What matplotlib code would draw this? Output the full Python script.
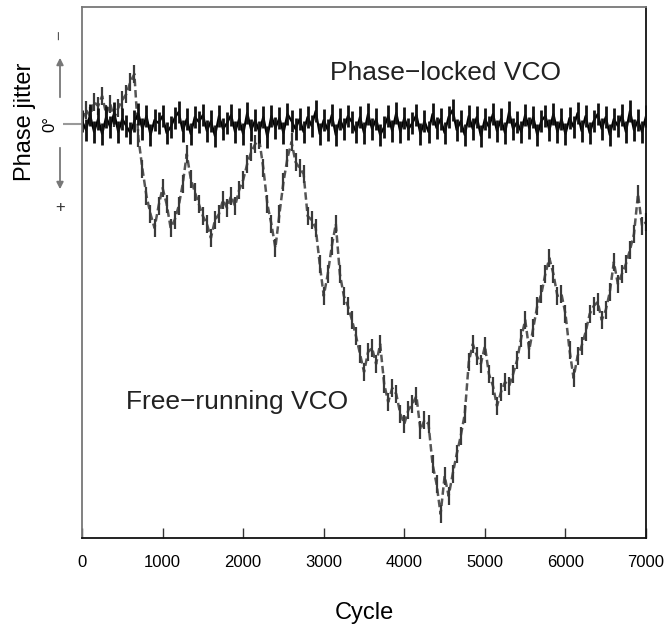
import matplotlib
matplotlib.use("Agg")
import matplotlib.pyplot as plt
import numpy as np

plt.rcParams['font.family'] = ['Liberation Sans', 'DejaVu Sans']

# cycle axis, one sample every 50 cycles
cycles = list(range(0, 7001, 50))

# free-running VCO phase jitter (arbitrary units)
free_running = [
    4, 14, 8, 22, 18, 28, 10, 20, 6, 16,
    24, 30, 42, 50, -14, -45, -72, -90, -104, -82,
    -64, -80, -104, -96, -82, -60, -30, -55, -68, -80,
    -92, -100, -114, -96, -90, -76, -84, -72, -82, -66,
    -56, -40, -28, -20, -16, -44, -80, -100, -124, -90,
    -58, -34, -18, -38, -44, -50, -92, -96, -104, -140,
    -172, -150, -122, -100, -150, -172, -182, -196, -212, -230,
    -248, -228, -224, -240, -220, -260, -278, -264, -270, -290,
    -300, -286, -280, -272, -306, -296, -300, -340, -360, -390,
    -352, -372, -350, -330, -312, -290, -238, -220, -232, -240,
    -222, -250, -262, -282, -268, -258, -262, -250, -236, -214,
    -196, -226, -204, -182, -170, -150, -134, -150, -172, -170,
    -190, -226, -254, -232, -222, -208, -190, -182, -178, -196,
    -186, -168, -138, -160, -150, -140, -126, -110, -70, -102,
    -98,
]

# phase-locked VCO phase jitter (same units)
phase_locked = [
    3, -6, 9, -8, 5, -10, 7, -3, 11, -8,
    5, -2, -9, 3, 10, -5, 8, -11, 4, 1,
    8, -9, -3, 6, 12, -7, 5, -10, 7, 2,
    9, -7, 3, -12, 8, -5, 1, 9, -8, 5,
    -10, 11, -6, 4, -8, 7, -13, 8, -4, 6,
    -9, 10, 3, -5, 5, -8, 7, -2, 13, -10,
    4, -6, 9, -11, 5, -5, 8, 2, -8, 7,
    -9, 10, -5, 5, -11, -3, 8, -7, 11, -8,
    6, -5, 1, 9, -10, 3, -8, 10, -4, 5,
    -9, 7, 14, -6, 3, -11, 8, -5, 7, -12,
    5, -3, 10, -7, 5, -9, 12, -5, 2, -8,
    9, -4, 7, -11, 3, 8, -6, 10, -8, 5,
    -10, 6, -3, 11, -7, 8, -9, 3, 10, -5,
    7, -11, 5, -2, 9, -8, 13, -6, 4, -8,
    8,
]

xticks = [0, 1000, 2000, 3000, 4000, 5000, 6000, 7000]

fig = plt.figure(figsize=(6.64, 6.24), dpi=100)
ax = fig.add_axes([0.1235, 0.1378, 0.8495, 0.851])

ax.plot(cycles, free_running, color="#555555", lw=1.8, ls=(0, (3, 1.5)),
        marker="|", ms=13, mew=1.6, mec="#3a3a3a")
ax.plot(cycles, phase_locked, color="black", lw=1.6,
        marker="|", ms=16, mew=2.0, mec="#111111")

ax.set_xlim(0, 7000)
ax.set_ylim(-414, 117)

ax.set_xticks(xticks)
ax.set_xticklabels([str(t) for t in xticks], fontsize=12)
ax.tick_params(axis="x", direction="in", length=7, width=1, pad=12, color="#333333")

ax.set_yticks([0])
ax.set_yticklabels(["0°"], rotation=90, va="center", fontsize=12)
ax.tick_params(axis="y", direction="out", length=14, width=1.5, pad=4, color="#999999")

ax.set_xlabel("Cycle", fontsize=17, labelpad=23)

for side in ["left", "top"]:
    ax.spines[side].set_color("#777777")
for side in ["right", "bottom"]:
    ax.spines[side].set_color("#111111")
for s in ax.spines.values():
    s.set_linewidth(1.3)

ax.text(4505, 51, "Phase\u2212locked VCO", fontsize=19, ha="center", va="center", color="#222222")
ax.text(1924, -278, "Free\u2212running VCO", fontsize=19, ha="center", va="center", color="#222222")

# y-axis legend: label, arrows and signs (figure pixel positions)
H = 624
fig.text(25 / 664, 1 - 122 / H, "Phase jitter", rotation=90, ha="center", va="center", fontsize=17)
arrow = dict(arrowstyle="-|>", color="#777777", lw=1.3, mutation_scale=10)
ax.annotate("", xy=(60, H - 55), xytext=(60, H - 100), xycoords="figure pixels",
            textcoords="figure pixels", arrowprops=arrow, annotation_clip=False)
ax.annotate("", xy=(60, H - 192), xytext=(60, H - 145), xycoords="figure pixels",
            textcoords="figure pixels", arrowprops=arrow, annotation_clip=False)
fig.text(60 / 664, 1 - 35 / H, "\u2212", rotation=90, ha="center", va="center", fontsize=12, color="#555555")
fig.text(60 / 664, 1 - 208 / H, "+", ha="center", va="center", fontsize=12, color="#333333")

fig.savefig("out.png", dpi=100)
